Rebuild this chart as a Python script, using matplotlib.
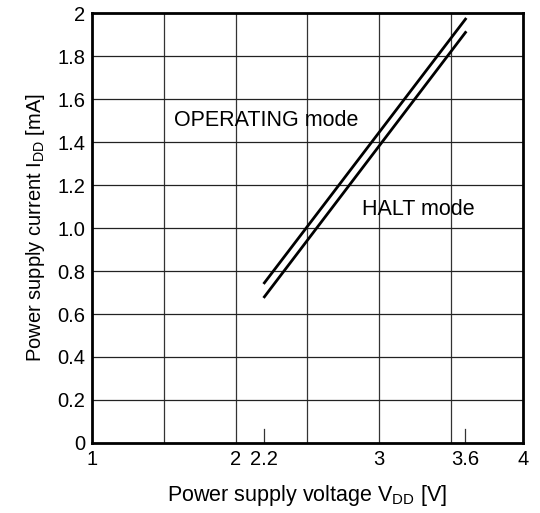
import matplotlib
matplotlib.use("Agg")
import matplotlib.pyplot as plt
import numpy as np

plt.rcParams['font.family'] = ['Liberation Sans', 'DejaVu Sans']

# Data
voltage = [2.2, 3.6]
operating_current = [0.745, 1.972]
halt_current = [0.68, 1.91]
xticks = [1, 2, 2.2, 3, 3.6, 4]
xtick_labels = ["1", "2", "2.2", "3", "3.6", "4"]
yticks = [0, 0.2, 0.4, 0.6, 0.8, 1.0, 1.2, 1.4, 1.6, 1.8, 2.0]
ytick_labels = ["0", "0.2", "0.4", "0.6", "0.8", "1.0", "1.2", "1.4", "1.6", "1.8", "2"]
xgrid = [1.5, 2, 2.5, 3, 3.5]

fig = plt.figure(figsize=(5.4, 5.13), dpi=100)
ax = fig.add_axes([0.1704, 0.1365, 0.798, 0.838])

ax.set_xlim(1, 4)
ax.set_ylim(0, 2)

for xv in xgrid:
    ax.axvline(xv, color='#333333', lw=0.9, zorder=1)
for yv in yticks[1:-1]:
    ax.axhline(yv, color='#222222', lw=0.9, zorder=1)

ax.plot(voltage, operating_current, color='black', lw=2.0, zorder=3)
ax.plot(voltage, halt_current, color='black', lw=2.0, zorder=3)

ax.text(1.57, 1.50, "OPERATING mode", fontsize=15.5, va='center', ha='left')
ax.text(2.88, 1.085, "HALT mode", fontsize=15.5, va='center', ha='left')

ax.set_xticks(xticks)
ax.set_xticklabels(xtick_labels, fontsize=14.5)
ax.set_yticks(yticks)
ax.set_yticklabels(ytick_labels, fontsize=14.5)
ax.tick_params(axis='both', direction='in', length=0, pad=5)
for xv in [2.2, 3.6]:
    ax.plot([xv, xv], [0, 0.065], color='#333333', lw=0.9, zorder=2)

for s in ax.spines.values():
    s.set_linewidth(2.0)
    s.set_color('black')

ax.set_xlabel(r"Power supply voltage V$_{\mathregular{DD}}$ [V]", fontsize=15.5, labelpad=10)
ax.set_ylabel(r"Power supply current I$_{\mathregular{DD}}$ [mA]", fontsize=14.5, labelpad=7)

fig.savefig("out.png", dpi=100)
